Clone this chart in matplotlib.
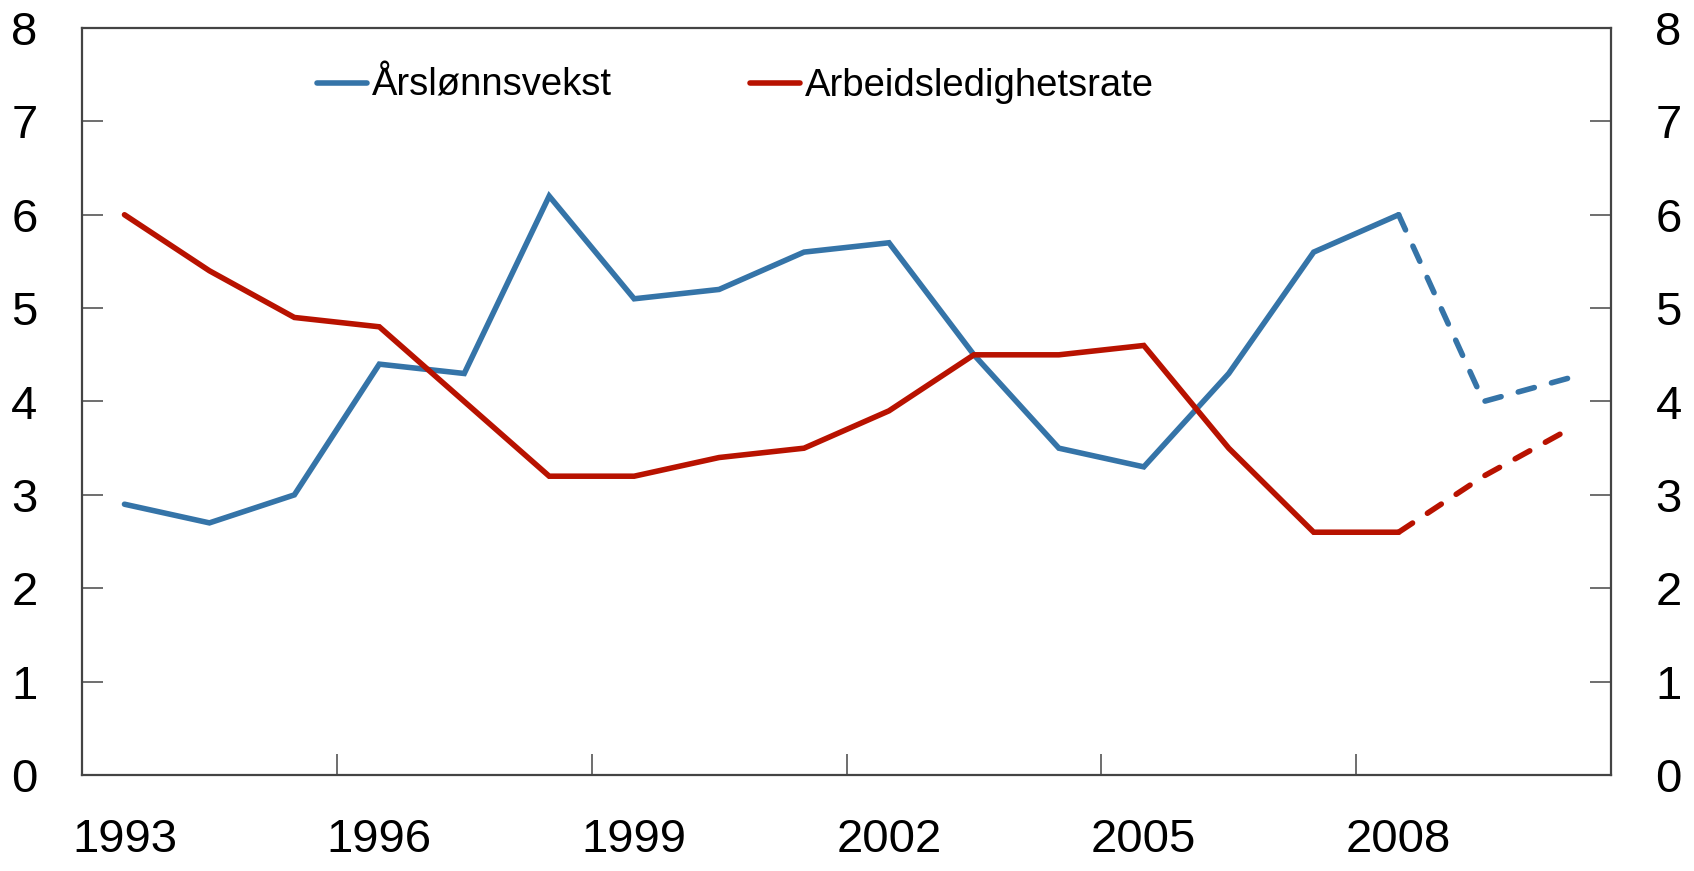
import matplotlib
matplotlib.use("Agg")
import matplotlib.pyplot as plt
from matplotlib.ticker import FixedLocator, NullFormatter, FixedFormatter

plt.rcParams['font.family'] = ['Liberation Sans', 'DejaVu Sans']

years = list(range(1993, 2011))
wage_growth = [2.9, 2.7, 3.0, 4.4, 4.3, 6.2, 5.1, 5.2, 5.6, 5.7, 4.5, 3.5, 3.3, 4.3, 5.6, 6.0, 4.0, 4.25]
unemployment = [6.0, 5.4, 4.9, 4.8, 4.0, 3.2, 3.2, 3.4, 3.5, 3.9, 4.5, 4.5, 4.6, 3.5, 2.6, 2.6, 3.2, 3.7]
last_actual = 2008
labels = ["Årslønnsvekst", "Arbeidsledighetsrate"]
label_years = [1993, 1996, 1999, 2002, 2005, 2008]
y_ticks = [0, 1, 2, 3, 4, 5, 6, 7, 8]

blue = "#3574a8"
red = "#b81200"

fig = plt.figure(figsize=(16.94, 8.71), dpi=100)
ax = fig.add_axes([82 / 1694, 1 - 775 / 871, (1611 - 82) / 1694, (775 - 28) / 871])

idx = list(range(len(years)))
k = years.index(last_actual)
lw = 4.0
for vals, col, lab in [(wage_growth, blue, labels[0]), (unemployment, red, labels[1])]:
    ax.plot(idx[:k + 1], vals[:k + 1], color=col, lw=lw, label=lab,
            solid_joinstyle='miter', solid_capstyle='round')
    ax.plot(idx[k:], vals[k:], color=col, lw=lw, dashes=(3.0, 3.2),
            dash_capstyle='round', dash_joinstyle='miter')

ax.set_xlim(-0.5, len(years) - 0.5)
ax.set_ylim(0, 8)

# x: ticks at category boundaries every 3 years, labels centred on years
ax.xaxis.set_major_locator(FixedLocator([2.5, 5.5, 8.5, 11.5, 14.5]))
ax.xaxis.set_major_formatter(NullFormatter())
ax.xaxis.set_minor_locator(FixedLocator([years.index(y) for y in label_years]))
ax.xaxis.set_minor_formatter(FixedFormatter([str(y) for y in label_years]))
ax.tick_params(axis='x', which='major', direction='in', length=15, width=1.2, color='#555555')
ax.tick_params(axis='x', which='minor', length=0, pad=31, labelsize=34)

ax.set_yticks(y_ticks)
ax.tick_params(axis='y', which='major', direction='in', length=15, width=1.2, color='#555555',
               labelsize=34, pad=32, left=True, right=True, labelleft=True, labelright=True)

for s in ax.spines.values():
    s.set_color('#444444')
    s.set_linewidth(1.6)

leg = ax.legend(loc='upper left', bbox_to_anchor=(317 / 1694, 1 - 68 / 871),
                bbox_transform=fig.transFigure, ncol=2, frameon=False,
                fontsize=27.5, handlelength=1.3, handletextpad=0.15,
                columnspacing=3.6, borderpad=0, borderaxespad=0)
for h in leg.get_lines():
    h.set_solid_capstyle('round')
    h.set_linewidth(lw)

fig.savefig("out.png", dpi=100)
